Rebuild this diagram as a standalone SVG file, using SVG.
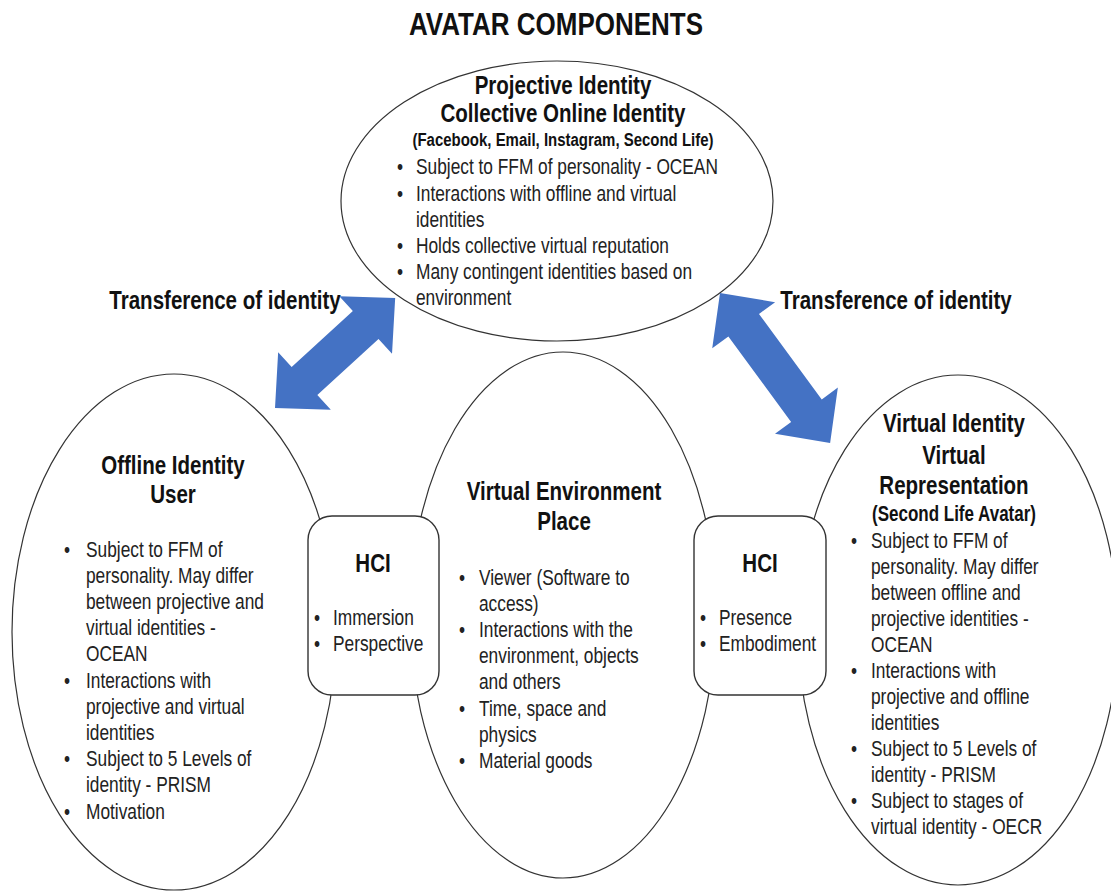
<svg xmlns="http://www.w3.org/2000/svg" width="1111" height="892" viewBox="0 0 1111 892">
<style>
.el{fill:#fff;stroke:#333;stroke-width:1.2}
.box{fill:#fff;stroke:#333;stroke-width:1.4}
.h{font-family:"Liberation Sans",Arial,sans-serif;font-weight:bold;font-size:26.3px;fill:#111;text-anchor:middle}
.sub{font-family:"Liberation Sans",Arial,sans-serif;font-weight:bold;font-size:19.2px;fill:#111;text-anchor:middle}
.t{font-family:"Liberation Sans",Arial,sans-serif;font-size:22.2px;fill:#222}
.arr{fill:#4472C4}
</style>
<rect width="1111" height="892" fill="#fff"/>
<g transform="translate(556,0) scale(0.8125,1)"><text x="0" y="35" class="h" style="font-size:32px">AVATAR COMPONENTS</text></g>

<g id="offline">
<ellipse class="el" cx="174" cy="632" rx="162" ry="258"/>
<g transform="translate(173,0) scale(0.78,1)">
<text class="h" x="0" y="474">Offline Identity</text>
<text class="h" x="0" y="503">User</text>
</g>
<g class="t" transform="translate(86,0) scale(0.78,1)">
<text x="-28.2" y="557">•</text><text x="0" y="557">Subject to FFM of</text>
<text x="0" y="583">personality.  May differ</text>
<text x="0" y="609">between projective and</text>
<text x="0" y="635">virtual  identities -</text>
<text x="0" y="661">OCEAN</text>
<text x="-28.2" y="688">•</text><text x="0" y="688">Interactions  with</text>
<text x="0" y="714">projective and virtual</text>
<text x="0" y="740">identities</text>
<text x="-28.2" y="766">•</text><text x="0" y="766">Subject to 5 Levels of</text>
<text x="0" y="792">identity - PRISM</text>
<text x="-28.2" y="819">•</text><text x="0" y="819">Motivation</text>
</g>
</g>

<g id="environment">
<ellipse class="el" cx="563" cy="615" rx="153" ry="263"/>
<g transform="translate(564,0) scale(0.78,1)">
<text class="h" x="0" y="500">Virtual Environment</text>
<text class="h" x="0" y="530">Place</text>
</g>
<g class="t" transform="translate(479,0) scale(0.78,1)">
<text x="-25.6" y="585">•</text><text x="0" y="585">Viewer (Software to</text>
<text x="0" y="611">access)</text>
<text x="-25.6" y="637">•</text><text x="0" y="637">Interactions  with the</text>
<text x="0" y="663">environment,  objects</text>
<text x="0" y="689">and others</text>
<text x="-25.6" y="716">•</text><text x="0" y="716">Time, space and</text>
<text x="0" y="742">physics</text>
<text x="-25.6" y="768">•</text><text x="0" y="768">Material goods</text>
</g>
</g>

<g id="virtual">
<ellipse class="el" cx="958" cy="630" rx="160" ry="255"/>
<g transform="translate(954,0) scale(0.78,1)">
<text class="h" x="0" y="432">Virtual Identity</text>
<text class="h" x="0" y="464">Virtual</text>
<text class="h" x="0" y="494">Representation</text>
<text class="sub" x="0" y="521" style="font-size:21.8px">(Second Life Avatar)</text>
</g>
<g class="t" transform="translate(871,0) scale(0.78,1)">
<text x="-25.6" y="548">•</text><text x="0" y="548">Subject to FFM of</text>
<text x="0" y="574">personality.  May differ</text>
<text x="0" y="600">between offline and</text>
<text x="0" y="626">projective identities -</text>
<text x="0" y="652">OCEAN</text>
<text x="-25.6" y="678">•</text><text x="0" y="678">Interactions  with</text>
<text x="0" y="704">projective and offline</text>
<text x="0" y="730">identities</text>
<text x="-25.6" y="756">•</text><text x="0" y="756">Subject to 5 Levels of</text>
<text x="0" y="782">identity - PRISM</text>
<text x="-25.6" y="808">•</text><text x="0" y="808">Subject to stages of</text>
<text x="0" y="834">virtual  identity - OECR</text>
</g>
</g>

<g id="projective">
<ellipse class="el" cx="557" cy="201" rx="216" ry="140"/>
<g transform="translate(563,0) scale(0.78,1)">
<text class="h" x="0" y="94">Projective Identity</text>
<text class="h" x="0" y="122">Collective Online Identity</text>
<text class="sub" x="0" y="146">(Facebook, Email, Instagram, Second Life)</text>
</g>
<g class="t" transform="translate(416,0) scale(0.78,1)">
<text x="-24.4" y="174">•</text><text x="0" y="174">Subject to FFM of personality - OCEAN</text>
<text x="-24.4" y="201">•</text><text x="0" y="201">Interactions  with offline and virtual</text>
<text x="0" y="227">identities</text>
<text x="-24.4" y="253">•</text><text x="0" y="253">Holds collective virtual reputation</text>
<text x="-24.4" y="279">•</text><text x="0" y="279">Many contingent identities based on</text>
<text x="0" y="305">environment</text>
</g>
</g>

<g id="hci-left">
<rect class="box" x="308" y="516" width="131" height="179" rx="24"/>
<g transform="translate(373,0) scale(0.78,1)"><text class="h" x="0" y="572">HCI</text></g>
<g class="t" transform="translate(333,0) scale(0.78,1)">
<text x="-24.4" y="625">•</text><text x="0" y="625">Immersion</text>
<text x="-24.4" y="651">•</text><text x="0" y="651">Perspective</text>
</g>
</g>

<g id="hci-right">
<rect class="box" x="694" y="516" width="132" height="179" rx="24"/>
<g transform="translate(760,0) scale(0.78,1)"><text class="h" x="0" y="572">HCI</text></g>
<g class="t" transform="translate(719,0) scale(0.78,1)">
<text x="-24.4" y="625">•</text><text x="0" y="625">Presence</text>
<text x="-24.4" y="651">•</text><text x="0" y="651">Embodiment</text>
</g>
</g>

<g id="connectors">
<polygon class="arr" transform="translate(275,408) rotate(-42.5)" points="0,0 40,-39 40,-19 123,-19 123,-39 163,0 123,39 123,19 40,19 40,39"/>
<polygon class="arr" transform="translate(720,293) rotate(53.7)" points="0,0 40,-39 40,-19 146,-19 146,-39 186,0 146,39 146,19 40,19 40,39"/>
<g transform="translate(225,0) scale(0.78,1)"><text class="h" x="0" y="309">Transference of identity</text></g>
<g transform="translate(896,0) scale(0.78,1)"><text class="h" x="0" y="309">Transference of identity</text></g>
</g>
</svg>
